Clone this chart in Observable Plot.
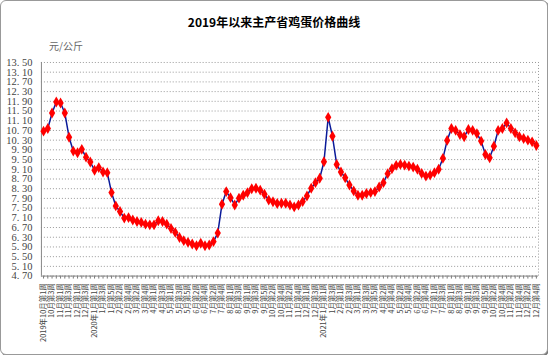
<!DOCTYPE html>
<html><head><meta charset="utf-8">
<script src="https://cdn.jsdelivr.net/npm/d3@7"></script>
<script src="https://cdn.jsdelivr.net/npm/@observablehq/plot@0.6"></script>
<style>
html,body{margin:0;padding:0;background:#fff;}
#wrap{position:relative;width:546px;height:353px;border:1px solid #999;border-radius:6px;box-shadow:1px 1px 0 #777;background:#fff;overflow:hidden;}
#title{position:absolute;top:12px;left:0;width:546px;text-align:center;font:bold 12px "Noto Sans CJK SC",sans-serif;color:#000;}
#unit{position:absolute;top:37px;left:48px;font:10px "Noto Sans CJK SC",sans-serif;color:#666;}
#chart{position:absolute;top:49px;left:-1px;}
</style></head>
<body><div id="wrap"><div id="title">2019年以来主产省鸡蛋价格曲线</div><div id="unit">元/公斤</div><div id="chart"></div></div>
<script>
const weekLabels = [
"2019年10月第1周","10月第2周","10月第3周","10月第4周","11月第1周","11月第2周","11月第3周","11月第4周","12月第1周","12月第2周","12月第3周","12月第4周",
"2020年1月第1周","1月第2周","1月第3周","1月第4周","1月第5周","2月第1周","2月第2周","2月第3周","2月第4周","3月第1周","3月第2周","3月第3周","3月第4周","3月第5周","4月第1周","4月第2周","4月第3周","4月第4周","5月第1周","5月第2周","5月第3周","5月第4周","5月第5周","6月第1周","6月第2周","6月第3周","6月第4周","7月第1周","7月第2周","7月第3周","7月第4周","7月第5周","8月第1周","8月第2周","8月第3周","8月第4周","9月第1周","9月第2周","9月第3周","9月第4周","9月第5周","10月第1周","10月第2周","10月第3周","10月第4周","11月第1周","11月第2周","11月第3周","11月第4周","11月第5周","12月第1周","12月第2周","12月第3周","12月第4周",
"2021年1月第1周","1月第2周","1月第3周","1月第4周","2月第1周","2月第2周","2月第3周","2月第4周","3月第1周","3月第2周","3月第3周","3月第4周","3月第5周","4月第1周","4月第2周","4月第3周","4月第4周","5月第1周","5月第2周","5月第3周","5月第4周","6月第1周","6月第2周","6月第3周","6月第4周","6月第5周","7月第1周","7月第2周","7月第3周","7月第4周","8月第1周","8月第2周","8月第3周","8月第4周","9月第1周","9月第2周","9月第3周","9月第4周","9月第5周","10月第1周","10月第2周","10月第3周","10月第4周","11月第1周","11月第2周","11月第3周","11月第4周","12月第1周","12月第2周","12月第3周","12月第4周"
];
const prices = [
10.67,10.78,11.42,11.87,11.83,11.42,10.42,9.85,9.78,9.92,9.60,9.40,9.06,9.17,8.99,8.96,8.14,7.59,7.36,7.09,7.11,7.01,6.95,6.91,6.84,6.81,6.81,6.98,6.95,6.84,6.66,6.50,6.29,6.16,6.09,6.02,5.95,6.05,5.95,5.98,
6.12,6.47,7.66,8.18,7.93,7.63,7.91,8.03,8.14,8.30,8.32,8.24,8.07,7.83,7.76,7.69,7.70,7.70,7.63,7.55,7.63,7.77,8.00,8.32,8.55,8.73,9.41,11.24,10.46,9.30,8.99,8.75,8.45,8.21,8.03,8.03,8.10,
8.14,8.18,8.37,8.55,8.92,9.12,9.26,9.30,9.27,9.23,9.19,9.10,8.93,8.82,8.86,8.96,9.10,9.55,10.29,10.78,10.70,10.53,10.44,10.74,10.70,10.57,10.26,9.71,9.57,10.05,10.70,10.78,11.01,10.78,10.60,10.44,10.37,10.30,10.23,10.08
];
const yTicks = [4.70,5.10,5.50,5.90,6.30,6.70,7.10,7.50,7.90,8.30,8.70,9.10,9.50,9.90,10.30,10.70,11.10,11.50,11.90,12.30,12.70,13.10,13.50];

const data = prices.map((p, i) => ({i, label: weekLabels[i], price: p}));
const idx = data.map(d => d.i);
const n = prices.length;

const chart = Plot.plot({
  width: 548, height: 300,
  marginTop: 12, marginBottom: 74, marginLeft: 41, marginRight: 9,
  style: {background: "transparent", overflow: "visible"},
  x: {domain: [-0.5, n - 0.5], label: null},
  y: {domain: [4.7, 13.5], label: null},
  marks: [
    Plot.gridY(yTicks, {stroke: "#999", strokeOpacity: 1, strokeDasharray: "1,2"}),
    Plot.ruleX([n - 0.5], {stroke: "#999", strokeDasharray: "1,2"}),
    Plot.axisY(yTicks, {label: null, tickSize: 0, tickPadding: 9, tickFormat: d => d.toFixed(2).replace(".", ". "), fontSize: 10.5, fontFamily: "Liberation Serif, serif", fill: "#444"}),
    Plot.axisX(idx, {label: null, tickSize: 3, tickPadding: 4, tickRotate: -90, stroke: "#777", fontSize: 7.5, fontFamily: "Noto Sans CJK SC, sans-serif", fill: "#444",
      tickFormat: d => d % 2 === 0 ? weekLabels[d] : ""}),
    Plot.ruleX([-0.5], {stroke: "#888"}),
    Plot.ruleY([4.7], {stroke: "#888"}),
    Plot.line(data, {x: "i", y: "price", stroke: "#0a1a99", strokeWidth: 1.5}),
    Plot.dot(data, {x: "i", y: "price", symbol: "diamond", r: 3.3, fill: "#ff0000", stroke: "none"})
  ]
});
document.getElementById("chart").appendChild(chart);
</script>
</body></html>
